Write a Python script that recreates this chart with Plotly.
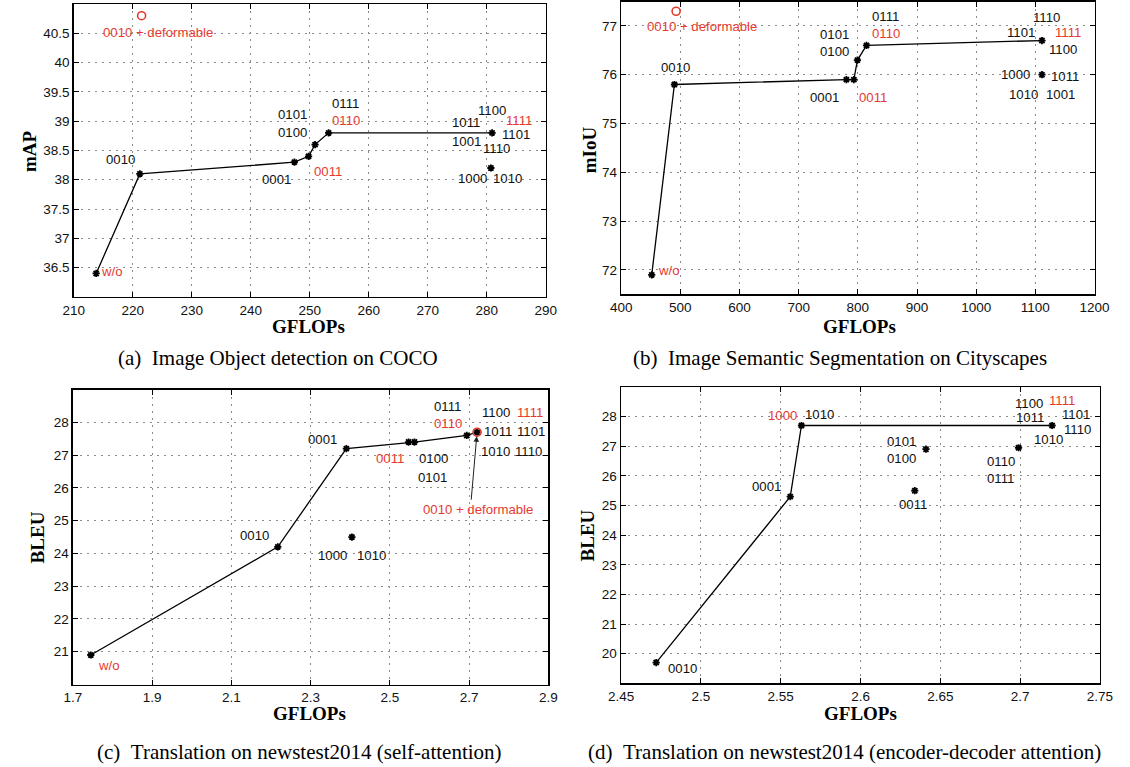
import plotly.graph_objects as go

W, H = 1130, 767
RED = "#e53b2f"
BLK = "#111111"

# ---------------- data: (a) Image Object detection on COCO ----------------
a_line_names = ["w/o", "0010", "0001", "0011", "0100", "0110", "1111"]
a_line_x = [213.8, 221.2, 247.4, 249.8, 250.9, 253.2, 280.9]
a_line_y = [36.4, 38.1, 38.3, 38.4, 38.6, 38.8, 38.8]
a_other_names = ["1000"]
a_other_x = [280.7]
a_other_y = [38.2]
a_deform_x = [221.5]
a_deform_y = [40.8]
a_xticks = [210, 220, 230, 240, 250, 260, 270, 280, 290]
a_xticktext = ["210", "220", "230", "240", "250", "260", "270", "280", "290"]
a_yticks = [36.5, 37, 37.5, 38, 38.5, 39, 39.5, 40, 40.5]
a_yticktext = ["36.5", "37", "37.5", "38", "38.5", "39", "39.5", "40", "40.5"]

# ---------------- data: (b) Image Semantic Segmentation on Cityscapes -----
b_line_names = ["w/o", "0010", "0001", "0011", "0100", "0110", "1111"]
b_line_x = [451.7, 490.0, 780.7, 793.3, 799.3, 814.7, 1111.2]
b_line_y = [71.9, 75.8, 75.9, 75.9, 76.3, 76.6, 76.7]
b_other_names = ["1000"]
b_other_x = [1111.2]
b_other_y = [76.0]
b_deform_x = [492.9]
b_deform_y = [77.3]
b_xticks = [400, 500, 600, 700, 800, 900, 1000, 1100, 1200]
b_xticktext = ["400", "500", "600", "700", "800", "900", "1000", "1100", "1200"]
b_yticks = [72, 73, 74, 75, 76, 77]
b_yticktext = ["72", "73", "74", "75", "76", "77"]

# ---------------- data: (c) Translation (self-attention) ------------------
c_line_names = ["w/o", "0010", "0001", "0011", "0100", "0110", "1111"]
c_line_x = [1.745, 2.217, 2.39, 2.547, 2.562, 2.694, 2.72]
c_line_y = [20.9, 24.2, 27.2, 27.4, 27.4, 27.6, 27.7]
c_other_names = ["1000"]
c_other_x = [2.404]
c_other_y = [24.5]
c_deform_x = [2.72]
c_deform_y = [27.7]
c_xticks = [1.7, 1.9, 2.1, 2.3, 2.5, 2.7, 2.9]
c_xticktext = ["1.7", "1.9", "2.1", "2.3", "2.5", "2.7", "2.9"]
c_yticks = [21, 22, 23, 24, 25, 26, 27, 28]
c_yticktext = ["21", "22", "23", "24", "25", "26", "27", "28"]

# ---------------- data: (d) Translation (encoder-decoder attention) -------
d_line_names = ["0010", "0001", "1000", "1111"]
d_line_x = [2.472, 2.556, 2.563, 2.72]
d_line_y = [19.7, 25.3, 27.7, 27.7]
d_other_names = ["0101", "0011", "0110"]
d_other_x = [2.641, 2.634, 2.699]
d_other_y = [26.9, 25.5, 26.95]
d_xticks = [2.45, 2.5, 2.55, 2.6, 2.65, 2.7, 2.75]
d_xticktext = ["2.45", "2.5", "2.55", "2.6", "2.65", "2.7", "2.75"]
d_yticks = [20, 21, 22, 23, 24, 25, 26, 27, 28]
d_yticktext = ["20", "21", "22", "23", "24", "25", "26", "27", "28"]

captions = [
    "(a)\u00a0\u00a0Image Object detection on COCO",
    "(b)\u00a0\u00a0Image Semantic Segmentation on Cityscapes",
    "(c)\u00a0\u00a0Translation on newstest2014 (self-attention)",
    "(d)\u00a0\u00a0Translation on newstest2014 (encoder-decoder attention)",
]
y_titles = ["mAP", "mIoU", "BLEU", "BLEU"]
x_title = "GFLOPs"

# ---------------- label layout: (text, anchor point, colour, dx px, dy px) ---
K, R = "k", "r"
a_labels = [
    ("w/o", "w/o", R, 16, -2), ("0010 + deformable", "deform", R, 16, 17),
    ("0010", "0010", K, -19, -14), ("0001", "0001", K, -18, 17),
    ("0101", "0100", K, -23, -30), ("0100", "0100", K, -23, -12),
    ("0011", "0011", R, 19, 15), ("0111", "0110", K, 17, -29),
    ("0110", "0110", R, 17, -12), ("1100", "1111", K, 0, -22),
    ("1011", "1111", K, -26, -10), ("1111", "1111", R, 27, -12),
    ("1101", "1111", K, 24, 2), ("1001", "1111", K, -26, 9),
    ("1110", "1111", K, 4, 16), ("1000", "1000", K, -18, 10),
    ("1010", "1000", K, 17, 10),
]
b_labels = [
    ("0010 + deformable", "deform", R, 26, 15), ("0010", "0010", K, 1, -17),
    ("0101", "0100", K, -23, -26), ("0100", "0100", K, -23, -9),
    ("0001", "0001", K, -22, 17.5), ("0011", "0011", R, 19, 17.5),
    ("0111", "0110", K, 19, -29), ("0110", "0110", R, 19, -12),
    ("1110", "1111", K, 5, -23), ("1101", "1111", K, -21, -8),
    ("1111", "1111", R, 26, -8), ("1100", "1111", K, 21, 9),
    ("1000", "1000", K, -26, 0), ("1011", "1000", K, 23, 2),
    ("1010", "1000", K, -18, 20), ("1001", "1000", K, 18.5, 20),
    ("w/o", "w/o", R, 17, -4),
]
c_labels = [
    ("0111", "0110", K, -19, -29), ("0110", "0110", R, -19, -12),
    ("1100", "1111", K, 19, -20), ("1111", "1111", R, 53, -20),
    ("1011", "1111", K, 21, -1), ("1101", "1111", K, 54, -1),
    ("1010", "1111", K, 18, 19), ("1110", "1111", K, 51, 19),
    ("0001", "0001", K, -24, -9), ("0011", "0011", R, -19, 16),
    ("0100", "0100", K, 19, 16), ("0101", "0100", K, 18, 35),
    ("0010 + deformable", "deform", R, 1, 77), ("0010", "0010", K, -23, -11),
    ("1000", "1000", K, -19.5, 18), ("1010", "1000", K, 19.5, 18),
    ("w/o", "w/o", R, 18, 10),
]
d_labels = [
    ("1000", "1000", R, -19, -10), ("1010", "1000", K, 18, -11),
    ("0001", "0001", K, -24, -10), ("0101", "0101", K, -24, -8),
    ("0100", "0101", K, -24, 9), ("0011", "0011", K, -2, 14),
    ("1100", "1111", K, -23, -22), ("1111", "1111", R, 10, -25),
    ("1011", "1111", K, -22, -8), ("1101", "1111", K, 24, -11),
    ("1110", "1111", K, 25, 4), ("1010", "1111", K, -4, 14),
    ("0110", "0110", K, -18, 14), ("0111", "0110", K, -18, 31),
    ("0010", "0010", K, 26, 6),
]

# ---------------- panel geometry (pixels) ----------------
panels = [
    dict(px=(62.3, 546.3), py=(4.0, 296.9), xr=(210, 290), yr=(36, 41),
         xt=(a_xticks, a_xticktext), yt=(a_yticks, a_yticktext),
         line=(a_line_names, a_line_x, a_line_y),
         other=(a_other_names, a_other_x, a_other_y),
         deform=(a_deform_x, a_deform_y), labels=a_labels,
         xtitle=(303, 326.5), ytitle=(17.5, 151), cap=(272, 358)),
    dict(px=(623.6, 1109.0), py=(1.5, 294.4), xr=(400, 1200), yr=(71.5, 77.5),
         xt=(b_xticks, b_xticktext), yt=(b_yticks, b_yticktext),
         line=(b_line_names, b_line_x, b_line_y),
         other=(b_other_names, b_other_x, b_other_y),
         deform=(b_deform_x, b_deform_y), labels=b_labels,
         xtitle=(867.5, 326.5), ytitle=(592, 150), cap=(848, 358)),
    dict(px=(61.5, 549.0), py=(389.6, 684.5), xr=(1.7, 2.9), yr=(20, 29),
         xt=(c_xticks, c_xticktext), yt=(c_yticks, c_yticktext),
         line=(c_line_names, c_line_x, c_line_y),
         other=(c_other_names, c_other_x, c_other_y),
         deform=(c_deform_x, c_deform_y), labels=c_labels,
         xtitle=(304, 713), ytitle=(25, 537), cap=(293.5, 752),
         arrow=(-6, 69)),
    dict(px=(623.5, 1114.6), py=(387.0, 683.3), xr=(2.45, 2.75), yr=(19, 29),
         xt=(d_xticks, d_xticktext), yt=(d_yticks, d_yticktext),
         line=(d_line_names, d_line_x, d_line_y),
         other=(d_other_names, d_other_x, d_other_y),
         deform=None, labels=d_labels,
         xtitle=(869, 713), ytitle=(589, 535), cap=(853, 752)),
]

TICKFONT = dict(family="Liberation Sans, Arial, sans-serif", size=13.5, color=BLK)
LABFONT = "Liberation Sans, Arial, sans-serif"
SERIF = "Liberation Serif, Times New Roman, serif"
STAR = dict(symbol="asterisk-open", size=6, color="black",
            line=dict(color="black", width=1.8))

fig = go.Figure()
layout = dict(width=W, height=H, margin=dict(l=0, r=0, t=0, b=0),
              paper_bgcolor="white", plot_bgcolor="white", showlegend=False)
annotations = []

for i, p in enumerate(panels):
    n = "" if i == 0 else str(i + 1)
    xa, ya = "x" + n, "y" + n
    common = dict(showline=True, linecolor="black", linewidth=1.5, mirror="ticks",
                  ticks="inside", ticklen=5, tickwidth=1, tickcolor="black",
                  showgrid=True, gridcolor="#8a8a8a", gridwidth=1, griddash="2px,5px",
                  zeroline=False, tickfont=TICKFONT, fixedrange=True)
    layout["xaxis" + n] = dict(common, domain=[p["px"][0] / W, p["px"][1] / W],
                               range=list(p["xr"]), anchor=ya,
                               tickmode="array", tickvals=p["xt"][0], ticktext=p["xt"][1])
    layout["yaxis" + n] = dict(common, domain=[1 - p["py"][1] / H, 1 - p["py"][0] / H],
                               range=list(p["yr"]), anchor=xa,
                               tickmode="array", tickvals=p["yt"][0], ticktext=p["yt"][1])

    names, lx, ly = p["line"]
    fig.add_trace(go.Scatter(x=lx, y=ly, xaxis=xa, yaxis=ya, mode="lines+markers",
                             line=dict(color="black", width=1.3),
                             marker=STAR, hoverinfo="skip"))
    onames, ox, oy = p["other"]
    fig.add_trace(go.Scatter(x=ox, y=oy, xaxis=xa, yaxis=ya, mode="markers",
                             marker=STAR, hoverinfo="skip"))
    pts = {nm: (x, y) for nm, x, y in zip(names, lx, ly)}
    pts.update({nm: (x, y) for nm, x, y in zip(onames, ox, oy)})
    if p["deform"] is not None:
        dx_, dy_ = p["deform"]
        fig.add_trace(go.Scatter(x=dx_, y=dy_, xaxis=xa, yaxis=ya, mode="markers",
                                 marker=dict(symbol="circle-open", size=8, color=RED,
                                             line=dict(color=RED, width=1.6)),
                                 hoverinfo="skip"))
        pts["deform"] = (dx_[0], dy_[0])

    for text, anc, col, dx, dy in p["labels"]:
        x0, y0 = pts[anc]
        annotations.append(dict(x=x0, y=y0, xref=xa, yref=ya, text=text,
                                showarrow=False, xshift=dx, yshift=-dy,
                                xanchor="center", yanchor="middle",
                                font=dict(family=LABFONT, size=13.2,
                                          color=RED if col == R else BLK)))
    if "arrow" in p:
        x0, y0 = pts["deform"]
        annotations.append(dict(x=x0, y=y0, xref=xa, yref=ya, text="",
                                showarrow=True, ax=p["arrow"][0], ay=p["arrow"][1],
                                axref="pixel", ayref="pixel",
                                arrowhead=2, arrowsize=1.1, arrowwidth=1,
                                arrowcolor="#222", standoff=4))

    # axis titles and captions
    tx, ty = p["xtitle"]
    annotations.append(dict(x=tx / W, y=1 - ty / H, xref="paper", yref="paper",
                            text="<b>" + x_title + "</b>", showarrow=False,
                            xanchor="center", yanchor="middle",
                            font=dict(family=SERIF, size=19, color="black")))
    vx, vy = p["ytitle"]
    annotations.append(dict(x=vx / W, y=1 - vy / H, xref="paper", yref="paper",
                            text="<b>" + y_titles[i] + "</b>", showarrow=False,
                            textangle=-90, xanchor="center", yanchor="middle",
                            font=dict(family=SERIF, size=19, color="black")))
    cx, cy = p["cap"]
    annotations.append(dict(x=cx / W, y=1 - cy / H, xref="paper", yref="paper",
                            text=captions[i], showarrow=False,
                            xanchor="center", yanchor="middle",
                            font=dict(family=SERIF, size=21, color="black")))

layout["annotations"] = annotations
fig.update_layout(**layout)
fig.write_html("out.html",
               config={"displayModeBar": False, "staticPlot": True},
               post_script="document.body.style.margin='0px';"
                           "document.body.style.overflow='hidden';")
